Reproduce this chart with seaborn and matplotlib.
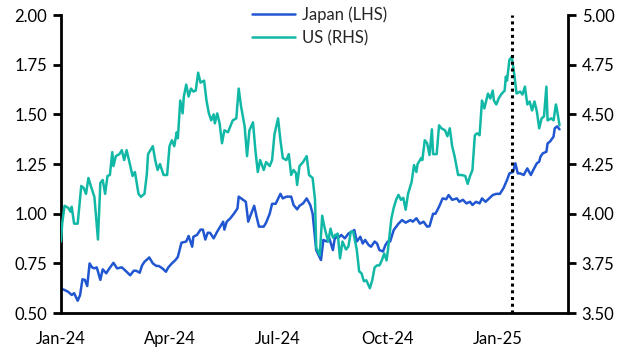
import matplotlib
matplotlib.use('Agg')
import matplotlib.pyplot as plt
import matplotlib.dates as mdates
import seaborn as sns
import pandas as pd
import numpy as np

# days since 2024-01-01 and 10y yields (%)
us_day = [0, 1, 3, 6, 8, 9, 11, 14, 17, 19, 21, 23, 25, 28, 31, 33, 35, 37, 39, 41,
          43, 44, 46, 49, 51, 53, 55, 57, 60, 62, 65, 67, 70, 72, 73, 77, 79, 81, 83, 86,
          89, 91, 93, 95, 97, 98, 100, 102, 103, 105, 107, 109, 111, 113, 115, 117, 120, 122, 124, 126,
          128, 129, 131, 133, 135, 137, 140, 142, 144, 147, 149, 151, 154, 156, 158, 161, 163, 165, 167, 170,
          172, 175, 177, 179, 182, 184, 186, 189, 191, 193, 195, 197, 198, 200, 203, 206, 208, 211, 213, 214,
          217, 219, 221, 224, 226, 228, 232, 234, 236, 239, 241, 243, 245, 248, 250, 252, 254, 256, 259, 261,
          263, 265, 267, 269, 271, 273, 274, 277, 279, 281, 283, 285, 287, 289, 291, 294, 296, 298, 299, 302,
          303, 305, 307, 309, 311, 312, 315, 317, 319, 322, 324, 326, 328, 330, 333, 336, 339, 341, 343, 345,
          347, 349, 351, 353, 355, 358, 360, 362, 363, 365, 367, 369, 372, 373, 374, 376, 378, 380, 382, 385,
          387, 389, 391, 393, 395, 397, 399, 401, 403, 405, 407, 408, 411, 413, 415, 416, 418]
us_yield = [3.86, 3.95, 4.04, 4.03, 4.01, 4.035, 3.95, 3.95, 4.14, 4.13, 4.10, 4.18, 4.14, 4.085, 3.87, 4.155, 4.17, 4.10, 4.19, 4.195,
            4.31, 4.24, 4.29, 4.30, 4.32, 4.27, 4.32, 4.27, 4.19, 4.21, 4.10, 4.085, 4.10, 4.20, 4.30, 4.34, 4.27, 4.22, 4.25, 4.195,
            4.195, 4.34, 4.37, 4.34, 4.41, 4.38, 4.57, 4.505, 4.59, 4.65, 4.59, 4.63, 4.615, 4.62, 4.71, 4.66, 4.67, 4.57, 4.505, 4.47,
            4.50, 4.455, 4.505, 4.455, 4.355, 4.42, 4.41, 4.44, 4.47, 4.48, 4.63, 4.54, 4.44, 4.29, 4.42, 4.46, 4.32, 4.21, 4.27, 4.22,
            4.26, 4.24, 4.27, 4.40, 4.48, 4.37, 4.28, 4.27, 4.30, 4.195, 4.22, 4.205, 4.145, 4.24, 4.26, 4.29, 4.195, 4.18, 4.07, 3.83,
            3.79, 3.99, 3.93, 3.86, 3.925, 3.88, 3.90, 3.775, 3.86, 3.82, 3.835, 3.91, 3.91, 3.82, 3.71, 3.70, 3.66, 3.665, 3.625, 3.665,
            3.73, 3.74, 3.74, 3.765, 3.80, 3.765, 3.81, 3.975, 4.03, 4.07, 4.095, 4.07, 4.08, 4.02, 4.10, 4.16, 4.245, 4.21, 4.25, 4.28,
            4.27, 4.37, 4.355, 4.295, 4.425, 4.30, 4.30, 4.445, 4.43, 4.42, 4.39, 4.43, 4.34, 4.29, 4.195, 4.195, 4.19, 4.15, 4.19, 4.22,
            4.395, 4.405, 4.395, 4.57, 4.53, 4.605, 4.58, 4.62, 4.57, 4.55, 4.58, 4.60, 4.62, 4.69, 4.67, 4.775, 4.79, 4.705, 4.605, 4.615,
            4.60, 4.64, 4.55, 4.565, 4.52, 4.565, 4.515, 4.43, 4.48, 4.49, 4.64, 4.47, 4.48, 4.47, 4.55, 4.52, 4.445]

jp_day = [1, 3, 6, 9, 11, 14, 16, 18, 20, 22, 24, 26, 28, 30, 33, 35, 38, 40, 44, 47,
          51, 55, 58, 61, 63, 66, 68, 70, 74, 77, 80, 82, 85, 88, 90, 93, 96, 98, 101, 105,
          107, 110, 111, 114, 117, 119, 121, 123, 125, 128, 131, 133, 136, 137, 139, 142, 145, 148, 149, 152,
          155, 157, 159, 162, 164, 166, 170, 172, 175, 177, 180, 184, 186, 189, 193, 195, 198, 200, 203, 206,
          209, 211, 214, 218, 220, 223, 225, 228, 230, 232, 235, 238, 241, 244, 246, 248, 251, 253, 255, 258,
          260, 263, 265, 267, 270, 272, 274, 276, 279, 283, 286, 289, 293, 295, 298, 301, 304, 307, 309, 312,
          314, 317, 320, 323, 325, 328, 332, 334, 337, 340, 343, 345, 348, 351, 353, 356, 359, 362, 365, 368,
          371, 374, 376, 379, 381, 383, 385, 388, 391, 394, 396, 399, 401, 402, 404, 407, 408, 410, 413, 414,
          416, 418]
jp_yield = [0.621, 0.616, 0.607, 0.591, 0.60, 0.562, 0.59, 0.67, 0.667, 0.636, 0.75, 0.73, 0.725, 0.73, 0.667, 0.72, 0.70, 0.72, 0.753, 0.725,
            0.73, 0.708, 0.69, 0.713, 0.713, 0.703, 0.74, 0.758, 0.78, 0.75, 0.737, 0.737, 0.725, 0.708, 0.73, 0.75, 0.767, 0.783, 0.854, 0.86,
            0.888, 0.834, 0.884, 0.893, 0.92, 0.92, 0.87, 0.904, 0.904, 0.876, 0.91, 0.93, 0.96, 0.92, 0.96, 0.977, 1.00, 1.027, 1.086, 1.073,
            1.06, 0.96, 0.993, 1.04, 0.985, 0.935, 0.935, 0.955, 1.00, 1.05, 1.05, 1.10, 1.077, 1.086, 1.086, 1.044, 1.022, 1.04, 1.052, 1.077,
            1.044, 1.00, 0.817, 0.767, 0.868, 0.86, 0.876, 0.817, 0.893, 0.876, 0.893, 0.876, 0.90, 0.91, 0.918, 0.86, 0.884, 0.85, 0.868, 0.842,
            0.834, 0.86, 0.85, 0.817, 0.81, 0.842, 0.86, 0.86, 0.918, 0.95, 0.968, 0.955, 0.968, 0.96, 0.977, 0.95, 0.96, 0.935, 0.937, 1.00,
            1.00, 1.035, 1.077, 1.073, 1.094, 1.07, 1.077, 1.06, 1.07, 1.052, 1.06, 1.044, 1.06, 1.052, 1.077, 1.06, 1.077, 1.094, 1.10, 1.10,
            1.128, 1.17, 1.203, 1.21, 1.254, 1.203, 1.203, 1.195, 1.228, 1.195, 1.22, 1.254, 1.262, 1.287, 1.304, 1.312, 1.354, 1.363, 1.388, 1.43,
            1.44, 1.425]

start = pd.Timestamp('2024-01-01')
marker_date = pd.Timestamp('2025-01-13')

us = pd.DataFrame({'date': start + pd.to_timedelta(us_day, unit='D'), 'yield': us_yield})
jp = pd.DataFrame({'date': start + pd.to_timedelta(jp_day, unit='D'), 'yield': jp_yield})

sns.set_style('white')
plt.rcParams['font.family'] = ['Lato', 'DejaVu Sans']

blue = '#2156d1'
teal = '#12b8a6'

fig = plt.figure(figsize=(6.32, 3.59), dpi=100)
ax = fig.add_axes([0.0965, 0.128, 0.802, 0.83])
ax2 = ax.twinx()

sns.lineplot(data=jp, x='date', y='yield', ax=ax, color=blue, linewidth=1.8, legend=False)
sns.lineplot(data=us, x='date', y='yield', ax=ax2, color=teal, linewidth=1.8, legend=False)

# dotted marker on top of both lines
ax2.axvline(marker_date, color='black', linestyle=(0, (1, 1.2)), linewidth=2.2, zorder=5)

ax.set_xlim(pd.Timestamp('2024-01-01'), pd.Timestamp('2025-03-01'))
ax.set_ylim(0.5, 2.0)
ax2.set_ylim(3.5, 5.0)
ax.set_yticks(np.arange(0.5, 2.01, 0.25))
ax2.set_yticks(np.arange(3.5, 5.01, 0.25))
ax.yaxis.set_major_formatter(plt.FormatStrFormatter('%.2f'))
ax2.yaxis.set_major_formatter(plt.FormatStrFormatter('%.2f'))
ax.xaxis.set_major_locator(mdates.MonthLocator(bymonth=[1, 4, 7, 10]))
ax.xaxis.set_major_formatter(mdates.DateFormatter('%b-%y'))
ax.set_xlabel('')
ax.set_ylabel('')
ax2.set_ylabel('')

for a in (ax, ax2):
    for s in a.spines.values():
        s.set_linewidth(2)
        s.set_color('black')
    a.spines['top'].set_visible(False)
    a.tick_params(axis='both', which='major', direction='out', length=6, width=2,
                  labelsize=12, colors='black', pad=4)
ax.tick_params(axis='x', pad=7)
ax.spines['right'].set_visible(False)
ax2.spines['left'].set_visible(False)
ax2.spines['bottom'].set_visible(False)
ax2.tick_params(axis='x', bottom=False, labelbottom=False)

handles = [ax.get_lines()[0], ax2.get_lines()[0]]
fig.legend(handles, ['Japan (LHS)', 'US (RHS)'], loc='upper center',
           bbox_to_anchor=(0.505, 1.025), frameon=False, fontsize=12,
           handlelength=2.6, handletextpad=0.4, labelspacing=0.45)

plt.savefig('out.png', dpi=100)
plt.close()
